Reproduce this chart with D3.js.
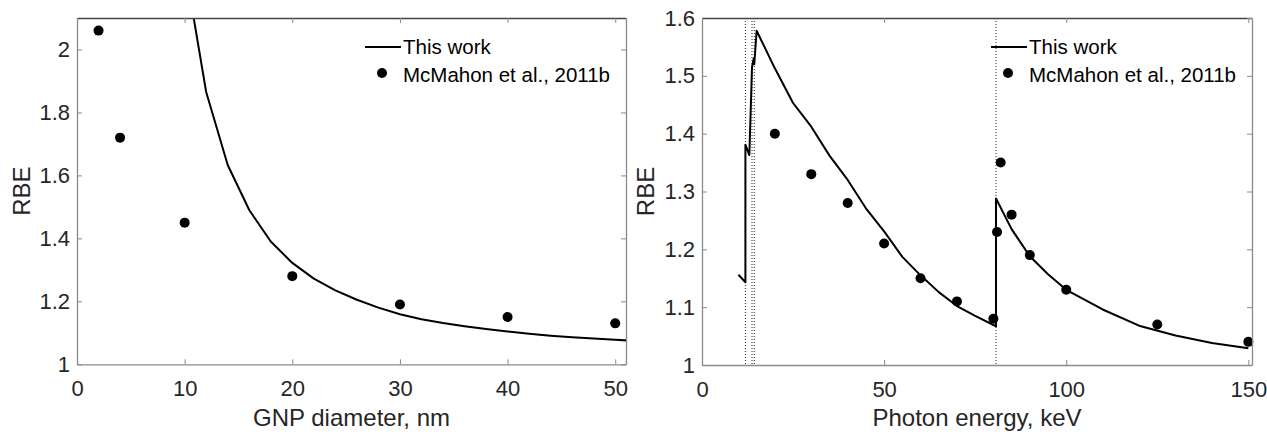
<!DOCTYPE html>
<html>
<head>
<meta charset="utf-8">
<script src="https://cdn.jsdelivr.net/npm/d3@7"></script>
<style>
  html, body { margin: 0; padding: 0; background: #fff; }
  svg { display: block; font-family: "Liberation Sans", Arial, Helvetica, sans-serif; }
</style>
</head>
<body>
<svg id="chart" width="1267" height="432"></svg>
<script>
// ---- Panel A: RBE vs GNP diameter ----
const diamModel = [10, 12, 14, 16, 18, 20, 22, 24, 26, 28, 30, 32, 34, 36, 38, 40, 42, 44, 46, 48, 50, 52];
const rbeDiamModel = [2.27, 1.865, 1.633, 1.49, 1.39, 1.322, 1.272, 1.235, 1.205, 1.18, 1.159, 1.143, 1.131, 1.121, 1.112, 1.104, 1.097, 1.091, 1.086, 1.082, 1.078, 1.074];
const diamRef = [2, 4, 10, 20, 30, 40, 50];
const rbeDiamRef = [2.06, 1.72, 1.45, 1.28, 1.19, 1.15, 1.13];
const diamTicks = [0, 10, 20, 30, 40, 50];
const rbeTicksA = [1, 1.2, 1.4, 1.6, 1.8, 2];

// ---- Panel B: RBE vs photon energy ----
const energyModel = [10, 11.92, 11.92, 13.0, 13.73, 14.2, 14.35, 15, 20, 25, 30, 35, 40, 45, 50, 55, 60, 65, 70, 75, 80.72, 80.72, 85, 90, 95, 100, 110, 120, 130, 140, 150];
const rbeEnergyModel = [1.156, 1.143, 1.381, 1.363, 1.515, 1.53, 1.52, 1.578, 1.513, 1.453, 1.412, 1.362, 1.320, 1.271, 1.231, 1.187, 1.155, 1.126, 1.102, 1.085, 1.067, 1.288, 1.235, 1.188, 1.157, 1.130, 1.096, 1.068, 1.051, 1.038, 1.029];
const energyRef = [20, 30, 40, 50, 60, 70, 80, 81, 82, 85, 90, 100, 125, 150];
const rbeEnergyRef = [1.40, 1.33, 1.28, 1.21, 1.15, 1.11, 1.08, 1.23, 1.35, 1.26, 1.19, 1.13, 1.07, 1.04];
const goldEdges = [11.92, 13.73, 14.35, 80.72];   // L3, L2, L1, K absorption edges of gold
const energyTicks = [0, 50, 100, 150];
const rbeTicksB = [1, 1.1, 1.2, 1.3, 1.4, 1.5, 1.6];

const legendLabels = ["This work", "McMahon et al., 2011b"];

const svg = d3.select("#chart");
const tickColor = "#262626";
const axisGray = "#8a8a8a";

function panel(opts) {
  const { id, left, right, top, bottom, xDomain, yDomain, xTicks, yTicks, xLabel, yLabelX,
          modelX, modelY, refX, refY, edges } = opts;
  const x = d3.scaleLinear().domain(xDomain).range([left, right]);
  const y = d3.scaleLinear().domain(yDomain).range([bottom, top]);
  const g = svg.append("g");

  g.append("clipPath").attr("id", id).append("rect")
    .attr("x", left).attr("y", top).attr("width", right - left).attr("height", bottom - top);

  // dotted guide lines
  if (edges) {
    g.append("g").selectAll("line").data(edges).join("line")
      .attr("x1", d => x(d)).attr("x2", d => x(d))
      .attr("y1", top).attr("y2", bottom)
      .attr("stroke", "#222").attr("stroke-width", 1)
      .attr("stroke-dasharray", "1,2");
  }

  // model curve
  const pts = modelX.map((v, i) => [v, modelY[i]]);
  g.append("path").datum(pts)
    .attr("clip-path", `url(#${id})`)
    .attr("fill", "none").attr("stroke", "#000").attr("stroke-width", 2)
    .attr("stroke-linejoin", "round")
    .attr("d", d3.line().x(d => x(d[0])).y(d => y(d[1])));

  // reference points
  g.append("g").selectAll("circle").data(refX.map((v, i) => [v, refY[i]])).join("circle")
    .attr("cx", d => x(d[0])).attr("cy", d => y(d[1])).attr("r", 5).attr("fill", "#000");

  const fmt = d3.format("~g");
  // bottom axis
  const ax = g.append("g").attr("transform", `translate(0,${bottom})`)
    .call(d3.axisBottom(x).tickValues(xTicks).tickFormat(fmt).tickSizeInner(-5).tickSizeOuter(0).tickPadding(16));
  // left axis
  const ay = g.append("g").attr("transform", `translate(${left},0)`)
    .call(d3.axisLeft(y).tickValues(yTicks).tickFormat(fmt).tickSizeInner(-5).tickSizeOuter(0).tickPadding(7));
  // top and right box edges
  const at = g.append("g").attr("transform", `translate(0,${top})`)
    .call(d3.axisTop(x).tickValues(xTicks).tickFormat("").tickSizeInner(-5).tickSizeOuter(0));
  const ar = g.append("g").attr("transform", `translate(${right},0)`)
    .call(d3.axisRight(y).tickValues(yTicks).tickFormat("").tickSizeInner(-5).tickSizeOuter(0));

  [ax, ay, at, ar].forEach(a => {
    a.select(".domain").attr("stroke", axisGray).attr("stroke-width", 1.3);
    a.selectAll(".tick line").attr("stroke", axisGray).attr("stroke-width", 1);
    a.selectAll(".tick text").attr("fill", tickColor).attr("font-size", 22)
      .attr("font-family", "Liberation Sans, Arial, sans-serif");
  });
  at.select(".domain").attr("stroke", "#444");

  // axis titles
  g.append("text").attr("x", (left + right) / 2).attr("y", 426)
    .attr("text-anchor", "middle").attr("font-size", 24).attr("fill", tickColor)
    .text(xLabel);
  g.append("text").attr("transform", `translate(${yLabelX},${(top + bottom) / 2}) rotate(-90)`)
    .attr("text-anchor", "middle").attr("font-size", 24).attr("fill", tickColor)
    .text("RBE");

  // legend
  const lx = right - 223;
  g.append("line").attr("x1", lx - 38).attr("x2", lx - 2).attr("y1", 47).attr("y2", 47)
    .attr("stroke", "#000").attr("stroke-width", 2);
  g.append("text").attr("x", lx).attr("y", 54).attr("font-size", 20.5).attr("fill", "#000")
    .text(legendLabels[0]);
  g.append("circle").attr("cx", lx - 21).attr("cy", 73).attr("r", 5).attr("fill", "#000");
  g.append("text").attr("x", lx).attr("y", 82).attr("font-size", 20.5).attr("fill", "#000")
    .text(legendLabels[1]);
}

panel({
  id: "clipA", left: 77, right: 626, top: 18, bottom: 364.3,
  xDomain: [0, 51], yDomain: [1, 2.1], xTicks: diamTicks, yTicks: rbeTicksA,
  xLabel: "GNP diameter, nm", yLabelX: 30,
  modelX: diamModel, modelY: rbeDiamModel, refX: diamRef, refY: rbeDiamRef
});

panel({
  id: "clipB", left: 702, right: 1252, top: 18, bottom: 365,
  xDomain: [0, 151], yDomain: [1, 1.6], xTicks: energyTicks, yTicks: rbeTicksB,
  xLabel: "Photon energy, keV", yLabelX: 654,
  modelX: energyModel, modelY: rbeEnergyModel, refX: energyRef, refY: rbeEnergyRef,
  edges: goldEdges
});
</script>
</body>
</html>
